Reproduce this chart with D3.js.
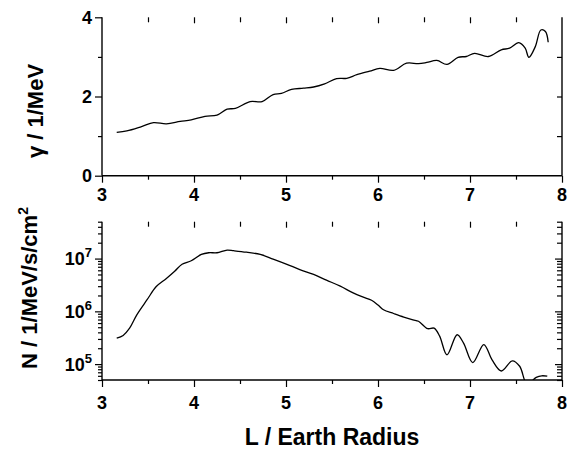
<!DOCTYPE html>
<html><head><meta charset="utf-8">
<script src="https://cdn.jsdelivr.net/npm/d3@7"></script>
<style>
body{margin:0;background:#fff}
text{font-family:"Liberation Sans",Arial,Helvetica,sans-serif;font-weight:bold;fill:#000}
</style>
</head><body>
<svg id="c" width="573" height="450"></svg>
<script>
// ---- data ----
const gammaL = [3.16,3.27,3.43,3.56,3.70,3.85,3.97,4.12,4.25,4.36,4.45,4.61,4.74,4.86,4.95,5.06,5.19,5.30,5.42,5.55,5.66,5.77,5.91,6.02,6.17,6.31,6.44,6.53,6.64,6.75,6.87,6.96,7.05,7.20,7.34,7.43,7.53,7.60,7.64,7.71,7.77,7.82,7.85];
const gammaV = [1.095,1.13,1.24,1.34,1.31,1.37,1.41,1.50,1.53,1.68,1.70,1.87,1.87,2.05,2.08,2.18,2.21,2.24,2.32,2.45,2.46,2.55,2.64,2.71,2.66,2.84,2.83,2.86,2.91,2.81,2.99,3.01,3.09,3.01,3.18,3.22,3.36,3.22,2.99,3.26,3.68,3.64,3.37];
const fluxL = [3.16,3.23,3.30,3.38,3.49,3.59,3.70,3.79,3.87,3.97,4.08,4.16,4.25,4.36,4.43,4.57,4.72,4.86,5.01,5.15,5.30,5.44,5.59,5.73,5.84,5.93,6.00,6.06,6.17,6.28,6.38,6.44,6.54,6.61,6.67,6.75,6.86,6.93,7.03,7.15,7.24,7.34,7.46,7.54,7.62,7.72,7.78,7.84];
const fluxV = [3.1e5,3.5e5,4.8e5,8.7e5,1.66e6,2.95e6,4.2e6,5.75e6,7.8e6,9.1e6,1.2e7,1.29e7,1.29e7,1.45e7,1.41e7,1.32e7,1.2e7,9.8e6,7.8e6,6.2e6,5.0e6,3.9e6,3.0e6,2.24e6,1.86e6,1.62e6,1.32e6,1.07e6,9.1e5,7.8e5,6.9e5,6.5e5,4.7e5,4.8e5,3.4e5,1.5e5,3.6e5,2.5e5,1.07e5,2.35e5,1.2e5,7.4e4,1.15e5,9.1e4,4.2e4,5.6e4,6.0e4,5.9e4];
const xTicks = [3,4,5,6,7,8];
const xMinor = [3.5,4.5,5.5,6.5,7.5];
const gammaTicks = [0,2,4];
const gammaMinor = [1,3];
const fluxExp = [5,6,7];
const xTitle = "L / Earth Radius";
const gammaTitle = "γ / 1/MeV";
const fluxTitle = "N / 1/MeV/s/cm";

// ---- layout ----
const svg = d3.select("#c");
const X0 = 102, X1 = 562;
const top1 = 17.3, bot1 = 175.7;
const top2 = 221.7, bot2 = 380;
const x = d3.scaleLinear().domain([3,8]).range([X0,X1]);
const yG = d3.scaleLinear().domain([0,4]).range([bot1,top1]);
const yN = d3.scaleLog().domain([5e4,5e7]).range([bot2,top2]);

const axStyle = g => { g.selectAll(".domain").remove(); g.selectAll("line").attr("stroke","#000").attr("stroke-width",1.2); g.selectAll("text").remove(); };

function xEdges(top, bot){
  // bottom axis (outward ticks) with line
  svg.append("g").attr("transform",`translate(0,${bot})`)
    .call(d3.axisBottom(x).tickValues(xTicks).tickSize(7).tickFormat("")).call(axStyle);
  svg.append("g").attr("transform",`translate(0,${bot})`)
    .call(d3.axisBottom(x).tickValues(xMinor).tickSize(4).tickFormat("")).call(axStyle);
  svg.append("line").attr("x1",X0).attr("x2",X1).attr("y1",bot).attr("y2",bot).attr("stroke","#000").attr("stroke-width",1.4);
  // top edge ticks pointing down, no line
  svg.append("g").attr("transform",`translate(0,${top})`)
    .call(d3.axisBottom(x).tickValues(xTicks.slice(1,-1)).tickSize(6).tickFormat("")).call(axStyle);
  svg.append("g").attr("transform",`translate(0,${top})`)
    .call(d3.axisBottom(x).tickValues(xMinor).tickSize(5).tickFormat("")).call(axStyle);
  // vertical lines
  svg.append("line").attr("x1",X0).attr("x2",X0).attr("y1",top).attr("y2",bot).attr("stroke","#000").attr("stroke-width",1.4);
  svg.append("line").attr("x1",X1).attr("x2",X1).attr("y1",top).attr("y2",bot).attr("stroke","#000").attr("stroke-width",1.4);
}
xEdges(top1,bot1);
xEdges(top2,bot2);

// x tick labels
[[bot1,201],[bot2,409]].forEach(([b,base])=>{
  svg.append("g").selectAll("text").data(xTicks).join("text")
    .attr("x",d=>x(d)).attr("y",base).attr("text-anchor","middle").attr("font-size",18).text(d=>d);
});

// top panel y axes
svg.append("g").attr("transform",`translate(${X0},0)`)
  .call(d3.axisLeft(yG).tickValues(gammaTicks).tickSize(7).tickFormat("")).call(axStyle);
svg.append("g").attr("transform",`translate(${X0},0)`)
  .call(d3.axisLeft(yG).tickValues(gammaMinor).tickSize(4).tickFormat("")).call(axStyle);
svg.append("g").attr("transform",`translate(${X1},0)`)
  .call(d3.axisLeft(yG).tickValues([1,2,3]).tickSize(5).tickFormat("")).call(axStyle);
svg.append("g").selectAll("text").data(gammaTicks).join("text")
  .attr("x",92).attr("y",d=>yG(d)+6.5).attr("text-anchor","end").attr("font-size",18).text(d=>d);

// bottom panel y axes (log)
const major = fluxExp.map(e=>Math.pow(10,e));
const minor = [];
[4,5,6,7].forEach(e=>{for(let k=2;k<=9;k++){const v=k*Math.pow(10,e); if(v>=5e4&&v<=5e7) minor.push(v);}});
svg.append("g").attr("transform",`translate(${X0},0)`)
  .call(d3.axisLeft(yN).tickValues(major).tickSize(7).tickFormat("")).call(axStyle);
svg.append("g").attr("transform",`translate(${X0},0)`)
  .call(d3.axisLeft(yN).tickValues(minor).tickSize(4).tickFormat("")).call(axStyle);
svg.append("g").attr("transform",`translate(${X1},0)`)
  .call(d3.axisLeft(yN).tickValues(major).tickSize(7).tickFormat("")).call(axStyle);
svg.append("g").attr("transform",`translate(${X1},0)`)
  .call(d3.axisLeft(yN).tickValues(minor).tickSize(5).tickFormat("")).call(axStyle);
const lab = svg.append("g").selectAll("text").data(fluxExp).join("text")
  .attr("x",92).attr("y",d=>yN(Math.pow(10,d))+6.5).attr("text-anchor","end").attr("font-size",18);
lab.append("tspan").text("10");
lab.append("tspan").attr("dy",-8).attr("font-size",13).text(d=>d);

// clip
const defs = svg.append("defs");
defs.append("clipPath").attr("id","cp1").append("rect").attr("x",X0).attr("y",top1-5).attr("width",X1-X0).attr("height",bot1-top1+5);
defs.append("clipPath").attr("id","cp2").append("rect").attr("x",X0).attr("y",top2).attr("width",X1-X0).attr("height",bot2-top2);

const lineG = d3.line().x(i=>x(gammaL[i])).y(i=>yG(gammaV[i])).curve(d3.curveCatmullRom.alpha(0.5));
svg.append("path").attr("clip-path","url(#cp1)").attr("d",lineG(d3.range(gammaL.length)))
  .attr("fill","none").attr("stroke","#000").attr("stroke-width",1.3);
const lineN = d3.line().x(i=>x(fluxL[i])).y(i=>yN(fluxV[i])).curve(d3.curveCatmullRom.alpha(0.5));
svg.append("path").attr("clip-path","url(#cp2)").attr("d",lineN(d3.range(fluxL.length)))
  .attr("fill","none").attr("stroke","#000").attr("stroke-width",1.3);

// titles
svg.append("text").attr("x",332).attr("y",445).attr("text-anchor","middle").attr("font-size",23).text(xTitle);
svg.append("text").attr("transform","translate(43,111) rotate(-90)").attr("text-anchor","middle").attr("font-size",22).text(gammaTitle);
const t2 = svg.append("text").attr("transform","translate(37,288) rotate(-90)").attr("text-anchor","middle").attr("font-size",22);
t2.append("tspan").text(fluxTitle);
t2.append("tspan").attr("dy",-9).attr("font-size",14).text("2");
</script>
</body></html>
